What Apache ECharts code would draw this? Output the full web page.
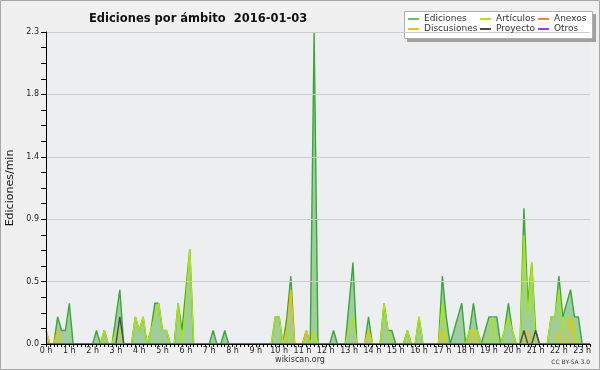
<!DOCTYPE html>
<html lang="es">
<head>
  <meta charset="UTF-8">
  <script src="https://cdn.jsdelivr.net/npm/echarts@6.0.0/dist/echarts.min.js"></script>
  <style>
    html, body { margin: 0; padding: 0; background: #f0f0f0; }
  </style>
</head>
<body>
  <div id="chart" style="width: 600px;height:370px;"></div>

  <script type="text/javascript">

    // ediciones/min, one value per 10 minutes, 00:00 .. 23:20 (one row = one hour)
    var ediciones = [
      0.1, 0, 0, 0.2, 0.1, 0.1,
      0.3, 0, 0, 0, 0, 0,
      0, 0.1, 0, 0.1, 0, 0,
      0.2, 0.4, 0, 0, 0, 0.2,
      0.1, 0.2, 0, 0.1, 0.3, 0.3,
      0.1, 0.1, 0, 0, 0.3, 0.1,
      0.4, 0.7, 0, 0, 0, 0,
      0, 0.1, 0, 0, 0.1, 0,
      0, 0, 0, 0, 0, 0,
      0, 0, 0, 0, 0, 0.2,
      0.2, 0, 0.2, 0.5, 0, 0,
      0, 0.1, 0, 2.3, 0, 0,
      0, 0, 0.1, 0, 0, 0,
      0.3, 0.6, 0, 0, 0, 0.2,
      0, 0, 0, 0.3, 0.1, 0.1,
      0, 0, 0, 0.1, 0, 0,
      0.2, 0, 0, 0, 0, 0,
      0.5, 0.2, 0, 0.1, 0.2, 0.3,
      0, 0.1, 0.3, 0.1, 0, 0.1,
      0.2, 0.2, 0.2, 0, 0.1, 0.3,
      0.1, 0, 0, 1.0, 0.3, 0.6,
      0.1, 0, 0, 0, 0.2, 0.2,
      0.5, 0.2, 0.3, 0.4, 0.2, 0.2,
      0, 0, 0
    ];
    var articulos = [
      0, 0, 0, 0, 0, 0,
      0, 0, 0, 0, 0, 0,
      0, 0, 0, 0.1, 0, 0,
      0.1, 0.1, 0, 0, 0, 0.2,
      0.1, 0.2, 0, 0.1, 0.2, 0.3,
      0.1, 0.1, 0, 0, 0.3, 0,
      0.3, 0.7, 0, 0, 0, 0,
      0, 0, 0, 0, 0, 0,
      0, 0, 0, 0, 0, 0,
      0, 0, 0, 0, 0, 0.2,
      0.2, 0, 0.1, 0, 0, 0,
      0, 0, 0, 0.1, 0, 0,
      0, 0, 0, 0, 0, 0,
      0.1, 0.2, 0, 0, 0, 0.1,
      0, 0, 0, 0.3, 0.1, 0,
      0, 0, 0, 0.1, 0, 0,
      0.2, 0, 0, 0, 0, 0,
      0.3, 0, 0, 0, 0, 0,
      0, 0.1, 0.1, 0.1, 0, 0,
      0, 0.2, 0, 0, 0.1, 0.2,
      0.1, 0, 0, 0.8, 0.2, 0.6,
      0, 0, 0, 0, 0.2, 0.2,
      0.4, 0.1, 0.2, 0.2, 0.1, 0,
      0, 0, 0
    ];
    var discusiones = [
      0.1, 0, 0, 0.1, 0, 0,
      0, 0, 0, 0, 0, 0,
      0, 0, 0, 0, 0, 0,
      0, 0, 0, 0, 0, 0,
      0, 0, 0, 0, 0, 0,
      0, 0, 0, 0, 0, 0,
      0, 0, 0, 0, 0, 0,
      0, 0, 0, 0, 0, 0,
      0, 0, 0, 0, 0, 0,
      0, 0, 0, 0, 0, 0,
      0, 0, 0.1, 0.4, 0, 0,
      0, 0.1, 0, 0, 0, 0,
      0, 0, 0, 0, 0, 0,
      0, 0, 0, 0, 0, 0.1,
      0, 0, 0, 0, 0, 0,
      0, 0, 0, 0, 0, 0,
      0, 0, 0, 0, 0, 0,
      0.1, 0, 0, 0, 0, 0,
      0, 0, 0.1, 0, 0, 0,
      0, 0, 0, 0, 0, 0,
      0, 0, 0, 0, 0.1, 0,
      0, 0, 0, 0, 0, 0,
      0.1, 0, 0, 0.2, 0, 0,
      0, 0, 0
    ];
    var proyecto = [
      0, 0, 0, 0, 0, 0,
      0, 0, 0, 0, 0, 0,
      0, 0, 0, 0, 0, 0,
      0, 0.2, 0, 0, 0, 0,
      0, 0, 0, 0, 0, 0,
      0, 0, 0, 0, 0, 0,
      0, 0, 0, 0, 0, 0,
      0, 0, 0, 0, 0, 0,
      0, 0, 0, 0, 0, 0,
      0, 0, 0, 0, 0, 0,
      0, 0, 0, 0, 0, 0,
      0, 0, 0, 0, 0, 0,
      0, 0, 0, 0, 0, 0,
      0, 0, 0, 0, 0, 0,
      0, 0, 0, 0, 0, 0,
      0, 0, 0, 0, 0, 0,
      0, 0, 0, 0, 0, 0,
      0, 0, 0, 0, 0, 0,
      0, 0, 0, 0, 0, 0,
      0, 0, 0, 0, 0, 0,
      0, 0, 0, 0.1, 0, 0,
      0.1, 0, 0, 0, 0, 0,
      0, 0, 0, 0, 0, 0,
      0, 0, 0
    ];
    // no edits seen for these two
    var anexos = ediciones.map(function () { return 0; });
    var otros = ediciones.map(function () { return 0; });

    var yMax = 2.3;
    var yStep = 0.46;
    var xMax = 140 / 6;   // last slot 23:20

    var font = 'DejaVu Sans';

    function toPoints(values) {
        return values.map(function (v, i) { return [i / 6, v]; });
    }

    function lineSeries(name, values, color) {
        return {
            name: name,
            type: 'line',
            data: toPoints(values),
            symbol: 'none',
            lineStyle: { color: color, width: 1.4 },
            itemStyle: { color: color },
            z: 3
        };
    }

    const chart = echarts.init(document.getElementById('chart'));

    const legendBase = {
        orient: 'vertical',
        top: 14,
        padding: 0,
        itemGap: 0,
        itemWidth: 11,
        itemHeight: 2,
        icon: 'rect',
        z: 20,
        selectedMode: false,
        textStyle: { fontFamily: font, fontSize: 9, color: '#333', lineHeight: 10, padding: [0, 0, 0, 0] }
    };

    const option = {
        animation: false,
        backgroundColor: '#f0f0f0',
        title: {
            text: 'Ediciones por ámbito  2016-01-03',
            left: 84,
            top: 8,
            textStyle: { fontFamily: font, fontWeight: 'bold', fontSize: 11.5, color: '#111' }
        },
        legend: [
            Object.assign({}, legendBase, { left: 408, data: ['Ediciones', 'Discusiones'] }),
            Object.assign({}, legendBase, { left: 480, data: ['Artículos', 'Proyecto'] }),
            Object.assign({}, legendBase, { left: 538, data: ['Anexos', 'Otros'] })
        ],
        graphic: [
            { type: 'rect', shape: { x: 0.5, y: 0.5, width: 599, height: 369 }, style: { fill: 'none', stroke: '#a8a8a8', lineWidth: 1 }, z: 0 },
            { type: 'rect', shape: { x: 407, y: 14, width: 189, height: 28 }, style: { fill: '#a0a0a0' }, z: 1 },
            { type: 'rect', shape: { x: 404.5, y: 11.5, width: 188, height: 27 }, style: { fill: '#ffffff', stroke: '#b0b0b0', lineWidth: 1 }, z: 2 },
            { type: 'text', left: 'center', top: 356, style: { text: 'wikiscan.org', font: '8px "DejaVu Sans"', fill: '#333' } },
            { type: 'text', right: 10, top: 359, style: { text: 'CC BY-SA 3.0', font: '6px "DejaVu Sans"', fill: '#333' } }
        ],
        grid: {
            left: 46,
            right: 10,
            top: 32,
            bottom: 26,
            outerBoundsMode: 'none',
            containLabel: false,
            show: true,
            backgroundColor: '#edeef0',
            borderWidth: 0
        },
        xAxis: {
            type: 'value',
            min: 0,
            max: xMax,
            interval: 1,
            z: 10,
            axisLine: { onZero: false, lineStyle: { color: '#000', width: 1 } },
            axisTick: { length: 3, lineStyle: { color: '#000' } },
            minorTick: { show: true, splitNumber: 6, length: 3, lineStyle: { color: '#000' } },
            splitLine: { show: false },
            axisLabel: {
                margin: 3,
                fontFamily: font,
                fontSize: 8,
                color: '#222',
                showMaxLabel: false,
                formatter: function (v) { return Number.isInteger(v) ? v + ' h' : ''; }
            }
        },
        yAxis: {
            type: 'value',
            min: 0,
            max: yMax,
            interval: yStep,
            z: 10,
            name: 'Ediciones/min',
            nameLocation: 'middle',
            nameRotate: 90,
            nameGap: 30,
            nameTextStyle: { fontFamily: font, fontSize: 11, color: '#111' },
            axisLine: { show: true, lineStyle: { color: '#000', width: 1 } },
            axisTick: { show: true, length: 5, lineStyle: { color: '#000' } },
            minorTick: { show: true, splitNumber: 4, length: 5, lineStyle: { color: '#000' } },
            splitLine: { show: true, lineStyle: { color: '#cccccc', width: 1 } },
            axisLabel: {
                margin: 7,
                fontFamily: font,
                fontSize: 8,
                color: '#222',
                formatter: function (v) { return v.toFixed(1); }
            }
        },
        series: [
            {
                name: 'Ediciones',
                type: 'line',
                data: toPoints(ediciones),
                symbol: 'none',
                lineStyle: { color: '#38a838', width: 1.4 },
                itemStyle: { color: '#66c466' },
                areaStyle: { color: '#9ecd9e', opacity: 1 },
                z: 2
            },
            lineSeries('Artículos', articulos, '#aee60a'),
            lineSeries('Anexos', anexos, '#ff7f3f'),
            lineSeries('Discusiones', discusiones, '#f2c200'),
            lineSeries('Proyecto', proyecto, '#4a4a4a'),
            lineSeries('Otros', otros, '#9b3cf0')
        ]
    };

    chart.setOption(option);
  </script>
</body>
</html>
